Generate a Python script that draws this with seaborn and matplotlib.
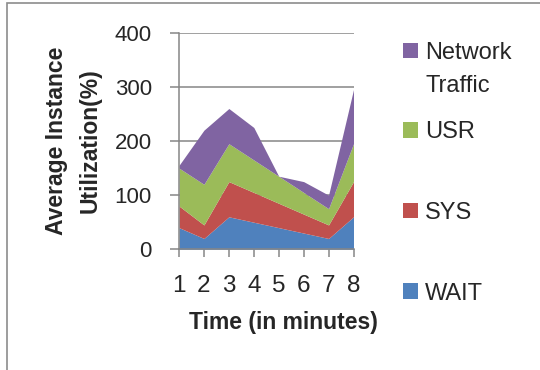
import numpy as np
import pandas as pd
import matplotlib
matplotlib.use("Agg")
import matplotlib.pyplot as plt
import seaborn as sns
from matplotlib.patches import Patch, Rectangle
from matplotlib.legend_handler import HandlerPatch

# values (stacked area, bottom to top)
minutes = [1, 2, 3, 4, 5, 6, 7, 8]
wait = [40, 20, 60, 50, 40, 30, 20, 60]
sys_ = [40, 25, 65, 55, 45, 35, 25, 65]
usr = [70, 75, 70, 60, 50, 40, 30, 70]
net = [5, 100, 65, 60, 0, 20, 25, 100]
series = ["WAIT", "SYS", "USR", "Network\nTraffic"]
yticks = [0, 100, 200, 300, 400]

df = pd.DataFrame({"WAIT": wait, "SYS": sys_, "USR": usr, "Network\nTraffic": net},
                  index=minutes)

sns.set_style("white")
plt.rcParams["font.family"] = ["Liberation Sans", "DejaVu Sans"]
colors = ["#4F81BD", "#C0504D", "#9BBB59", "#8064A2"]
grey = "#868686"

fig = plt.figure(figsize=(5.4, 3.7), dpi=100)
W, H = 540, 370
ax = fig.add_axes([179 / W, 1 - 249.3 / H, 174.5 / W, 216.6 / H])

ax.stackplot(df.index, [df[c] for c in series], colors=colors, linewidth=0)

ax.set_xlim(1, 8)
ax.set_ylim(0, 400)
ax.set_xticks(minutes)
ax.set_yticks(yticks)
ax.set_axisbelow(True)
ax.grid(axis="y", color=grey, linewidth=1.1)
ax.grid(axis="x", visible=False)
for s in ["top", "right"]:
    ax.spines[s].set_visible(False)
for s in ["left", "bottom"]:
    ax.spines[s].set_color(grey)
    ax.spines[s].set_linewidth(1.1)
ax.tick_params(axis="y", direction="out", length=6.5, width=1.1, color=grey,
               pad=13, labelsize=16, left=True)
ax.tick_params(axis="x", direction="out", length=5.4, width=1.1, color=grey,
               pad=13, labelsize=17.5, bottom=True)

ax.set_xlabel("Time (in minutes)", fontsize=16.5, fontweight="bold")
ax.xaxis.set_label_coords(0.598, -0.283)
ax.set_ylabel("Average Instance\nUtilization(%)", fontsize=16.5, fontweight="bold",
              linespacing=1.6)
ax.yaxis.set_label_coords(-0.441, 0.5)

# legend: network traffic on its own (two-line label), square next to first line
def square_up(legend, orig_handle, xdescent, ydescent, width, height, fontsize):
    return Rectangle((-xdescent, -ydescent + 0.8 * fontsize), width, height)

net_patch = Patch(facecolor=colors[3], edgecolor="none")
leg1 = ax.legend([net_patch], ["Network\nTraffic"], loc="upper left",
                 bbox_to_anchor=(402.7 / W, 1 - 42 / H), bbox_transform=fig.transFigure,
                 frameon=False, fontsize=17, borderpad=0, borderaxespad=0,
                 handlelength=0.635, handleheight=0.635, handletextpad=0.31,
                 handler_map={net_patch: HandlerPatch(patch_func=square_up)})
leg1.get_texts()[0].set_linespacing(1.63)
ax.add_artist(leg1)

others = [Patch(facecolor=colors[i], edgecolor="none") for i in (2, 1, 0)]
ax.legend(others, ["USR", "SYS", "WAIT"], loc="center left",
          bbox_to_anchor=(402.7 / W, 1 - 213 / H), bbox_transform=fig.transFigure,
          frameon=False, fontsize=17, borderpad=0, borderaxespad=0,
          handlelength=0.635, handleheight=0.635, handletextpad=0.31,
          labelspacing=2.48)

# outer chart border (only top and left edges fall inside the picture)
fig.add_artist(Rectangle((7 / W, -0.1), 1.2, 1.1 - 3 / H, transform=fig.transFigure,
                         fill=False, edgecolor="#8c8c8c", linewidth=1.2))

fig.savefig("out.png", dpi=100)
